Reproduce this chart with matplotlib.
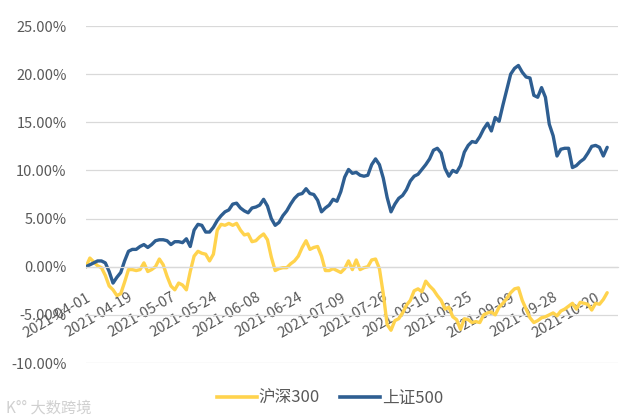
import numpy as np
import matplotlib.pyplot as plt
from matplotlib.lines import Line2D

plt.rcParams['font.family'] = ['Noto Sans CJK SC', 'DejaVu Sans']

# daily cumulative return (%) per trading day, 2021-04-01 onward
hs300 = [0.0, 0.9, 0.5, 0.1, -0.1, -0.9, -2.0, -2.4, -3.0, -2.8,
         -1.6, -0.3, -0.3, -0.4, -0.3, 0.4, -0.5, -0.3, 0.0, 0.8,
         0.2, -1.0, -2.0, -2.4, -1.7, -1.9, -2.4, -0.5, 1.1, 1.6,
         1.4, 1.3, 0.6, 1.3, 3.8, 4.4, 4.3, 4.5, 4.3, 4.5,
         3.8, 3.3, 3.4, 2.6, 2.7, 3.1, 3.4, 2.8, 1.0, -0.4,
         -0.2, -0.1, -0.1, 0.3, 0.6, 1.1, 2.0, 2.7, 1.8, 2.0,
         2.1, 1.1, -0.4, -0.4, -0.2, -0.4, -0.6, -0.2, 0.6, -0.3,
         0.7, -0.3, -0.1, 0.0, 0.7, 0.8, -0.2, -2.8, -6.0, -6.6,
         -5.6, -5.4, -4.8, -4.0, -3.5, -2.5, -2.3, -2.6, -1.5, -2.0,
         -2.4, -3.0, -3.5, -4.4, -4.2, -5.2, -5.5, -6.5, -5.4, -5.5,
         -5.8, -5.7, -5.8, -5.0, -4.8, -4.7, -5.0, -4.2, -3.8, -3.3,
         -2.7, -2.3, -2.2, -3.5, -4.4, -5.3, -5.8, -5.6, -5.3, -5.2,
         -5.0, -4.8, -5.1, -4.6, -4.4, -4.1, -3.8, -4.4, -3.7, -3.8,
         -3.9, -4.5, -3.8, -3.9, -3.4, -2.7]

sz500 = [0.0, 0.2, 0.4, 0.6, 0.6, 0.4, -0.5, -1.7, -1.1, -0.6,
         0.6, 1.6, 1.8, 1.8, 2.1, 2.3, 2.0, 2.3, 2.7, 2.8,
         2.8, 2.7, 2.3, 2.6, 2.6, 2.5, 2.9, 2.1, 3.8, 4.4,
         4.3, 3.6, 3.6, 4.1, 4.8, 5.3, 5.7, 5.9, 6.5, 6.6,
         6.1, 5.8, 5.6, 6.1, 6.2, 6.4, 7.0, 6.3, 5.0, 4.3,
         4.6, 5.3, 5.8, 6.5, 7.1, 7.5, 7.6, 8.1, 7.6, 7.5,
         6.9, 5.7, 6.1, 6.4, 7.0, 6.8, 7.8, 9.3, 10.1, 9.7,
         9.8, 9.5, 9.4, 9.5, 10.6, 11.2, 10.6, 9.2, 7.2, 5.7,
         6.5, 7.1, 7.4, 8.0, 8.9, 9.4, 9.6, 10.1, 10.6, 11.2,
         12.1, 12.3, 11.8, 10.2, 9.4, 10.0, 9.8, 10.5, 11.9, 12.6,
         13.0, 12.9, 13.5, 14.3, 14.9, 14.1, 15.5, 15.1, 16.8, 18.4,
         20.0, 20.6, 20.9, 20.2, 19.7, 19.6, 17.8, 17.6, 18.6, 17.6,
         14.8, 13.6, 11.5, 12.2, 12.3, 12.3, 10.3, 10.5, 10.9, 11.2,
         11.8, 12.5, 12.6, 12.4, 11.5, 12.4]

tick_labels = ['2021-04-01', '2021-04-19', '2021-05-07', '2021-05-24', '2021-06-08',
               '2021-06-24', '2021-07-09', '2021-07-26', '2021-08-10', '2021-08-25',
               '2021-09-09', '2021-09-28', '2021-10-20']
tick_step = 11

yellow = '#FFD34D'
blue = '#2E5E91'
grey = '#595959'

fig = plt.figure(figsize=(6.36, 4.19), dpi=100)
ax = fig.add_axes([86 / 636, 1 - 363 / 419, 532 / 636, 337 / 419])

x = np.arange(len(sz500))
ax.plot(x, hs300, color=yellow, lw=2.4, solid_capstyle='round')
ax.plot(x, sz500, color=blue, lw=2.4, solid_capstyle='round')

ax.set_xlim(0, 137.8)
ax.set_ylim(-10, 25)
ax.set_yticks(np.arange(-10, 26, 5))
ax.set_yticklabels(['%.2f%%' % v for v in np.arange(-10, 26, 5)])
ax.grid(axis='y', color='#D9D9D9', lw=0.9)
ax.set_axisbelow(True)

for s in ['top', 'right', 'left']:
    ax.spines[s].set_visible(False)
ax.spines['bottom'].set_position(('data', 0))
ax.spines['bottom'].set_color('#D9D9D9')
ax.spines['bottom'].set_linewidth(0.9)

ax.set_xticks(np.arange(len(tick_labels)) * tick_step)
ax.set_xticklabels(tick_labels, rotation=30, ha='right', rotation_mode='anchor')
ax.tick_params(axis='x', length=0, pad=17, labelsize=10.5, labelcolor=grey)
ax.tick_params(axis='y', length=0, pad=14, labelsize=10.5, labelcolor=grey)

handles = [Line2D([], [], color=yellow, lw=2.6), Line2D([], [], color=blue, lw=2.6)]
fig.legend(handles, ['沪深300', '上证500'], loc='center', ncol=2,
           bbox_to_anchor=(330 / 636, 1 - 398 / 419), frameon=False,
           fontsize=12, labelcolor=grey, handlelength=2.4, handletextpad=0.1,
           columnspacing=1.2)

# faint watermark
fig.text(0.01, 0.025, 'K°° 大数跨境', fontsize=11, color='#D0D0D0', ha='left', va='center')

fig.savefig('out.png', dpi=100)
